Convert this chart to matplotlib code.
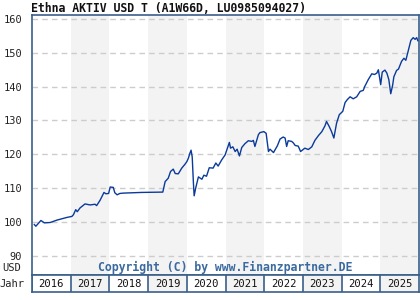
import matplotlib
matplotlib.use("Agg")
import matplotlib.pyplot as plt

# fund price (USD), decimal year vs value
years = [2016.06, 2016.10, 2016.23, 2016.32, 2016.47, 2016.64, 2016.90, 2017.03, 2017.07, 2017.13,
         2017.17, 2017.24, 2017.37, 2017.50, 2017.63, 2017.67, 2017.76, 2017.83, 2017.86, 2017.91,
         2017.98, 2018.02, 2018.10, 2018.14, 2018.20, 2018.27, 2018.36, 2018.83, 2019.38, 2019.44,
         2019.52, 2019.58, 2019.65, 2019.70, 2019.78, 2019.87, 2019.95, 2020.00, 2020.04, 2020.08,
         2020.11, 2020.14, 2020.17, 2020.19, 2020.23, 2020.30, 2020.39, 2020.44, 2020.51, 2020.58,
         2020.68, 2020.75, 2020.81, 2020.90, 2020.99, 2021.10, 2021.13, 2021.19, 2021.25, 2021.30,
         2021.36, 2021.42, 2021.50, 2021.59, 2021.68, 2021.72, 2021.76, 2021.85, 2021.89, 2021.99,
         2022.05, 2022.11, 2022.15, 2022.24, 2022.34, 2022.41, 2022.49, 2022.54, 2022.58, 2022.62,
         2022.71, 2022.75, 2022.80, 2022.88, 2022.94, 2023.05, 2023.14, 2023.23, 2023.31, 2023.40,
         2023.49, 2023.57, 2023.61, 2023.68, 2023.74, 2023.80, 2023.87, 2023.94, 2024.03, 2024.09,
         2024.15, 2024.22, 2024.30, 2024.39, 2024.48, 2024.56, 2024.60, 2024.69, 2024.78, 2024.85,
         2024.91, 2024.95, 2024.97, 2025.01, 2025.05, 2025.12, 2025.17, 2025.22, 2025.27, 2025.32,
         2025.35, 2025.42, 2025.47, 2025.55, 2025.61, 2025.66, 2025.72, 2025.79, 2025.85, 2025.90,
         2025.94, 2025.97]
prices = [99.2, 98.7, 100.4, 99.7, 99.8, 100.5, 101.3, 101.6, 102.1, 103.6,
          103.0, 104.1, 105.3, 105.0, 105.2, 104.8, 106.4, 108.0, 108.7, 108.3,
          108.4, 110.3, 110.2, 108.6, 108.0, 108.4, 108.5, 108.7, 108.8, 111.9,
          112.9, 114.9, 115.6, 114.3, 114.2, 115.9, 117.0, 117.8, 118.8, 120.3,
          121.2, 119.2, 111.7, 107.7, 110.0, 113.3, 112.6, 113.8, 113.5, 116.0,
          115.9, 117.4, 116.5, 118.3, 119.8, 123.5, 121.8, 122.2, 120.8, 121.5,
          119.5, 122.0, 123.1, 124.0, 123.8, 124.1, 122.3, 125.8, 126.4, 126.7,
          126.2, 120.8, 121.5, 120.5, 122.5, 124.5, 125.1, 124.8, 122.3, 124.0,
          123.8, 123.4, 122.6, 122.4, 120.8, 121.8, 121.4, 122.2, 124.1, 125.5,
          126.7, 128.4, 129.7, 128.2, 126.7, 124.8, 129.2, 131.7, 132.7, 135.3,
          136.2, 137.0, 136.4, 137.0, 138.6, 138.9, 140.1, 142.1, 143.8, 143.6,
          144.0, 145.0, 143.6, 140.6, 144.3, 144.9, 144.0, 142.1, 137.9, 140.5,
          142.9, 144.8, 145.2, 147.5, 148.4, 147.8, 150.5, 153.7, 154.5, 154.0,
          154.5, 153.6]

year_labels = ["2016", "2017", "2018", "2019", "2020", "2021", "2022", "2023", "2024", "2025"]
y_ticks = [90, 100, 110, 120, 130, 140, 150, 160]

border = "#3a5f8a"
line_col = "#0a3a9a"
stripe = "#f3f3f3"
font = "DejaVu Sans Mono"

fig = plt.figure(figsize=(4.2, 3.0), dpi=100)
W, H = 420, 300

ax = fig.add_axes([32 / W, 1 - 275 / H, 387 / W, 260 / H])
ax.set_xlim(2016, 2026)
ax.set_ylim(84.27, 161.2)
for i, lab in enumerate(year_labels):
    if i % 2 == 1:
        ax.axvspan(int(lab), int(lab) + 1, color=stripe, zorder=0, lw=0)
for v in y_ticks:
    ax.axhline(v, color="#cccccc", lw=1, ls=(0, (4, 3)), zorder=1)
ax.plot(years, prices, color=line_col, lw=1.0, zorder=3)
ax.set_xticks([])
ax.set_yticks(y_ticks)
ax.set_yticklabels([str(v) for v in y_ticks], fontfamily=font, fontsize=7.5, color="#222222")
ax.tick_params(axis="y", length=0, pad=7)
for s in ax.spines.values():
    s.set_color(border)
    s.set_linewidth(1.2)

fig.text(31 / W, 1 - 12.5 / H, "Ethna AKTIV USD T (A1W66D, LU0985094027)",
         ha="left", va="baseline", fontfamily=font, fontsize=8.3, fontweight="bold", color="#111111")
fig.text(12 / W, 1 - 268 / H, "USD", ha="center", va="center", fontfamily=font,
         fontsize=7.5, color="#222222")
ax.text(0.5, 0.028, "Copyright (C) by www.Finanzpartner.DE", transform=ax.transAxes,
        ha="center", va="center", fontfamily=font, fontsize=8.3, fontweight="bold",
        color="#3a6a9f", zorder=4)

# year bar below the chart
axy = fig.add_axes([32 / W, 1 - 292 / H, 387 / W, 17 / H])
axy.set_xlim(2016, 2026)
axy.set_ylim(0, 1)
for i, lab in enumerate(year_labels):
    if i % 2 == 1:
        axy.axvspan(int(lab), int(lab) + 1, color=stripe, zorder=0, lw=0)
    axy.axvline(int(lab), color=border, lw=1.2)
    axy.text(int(lab) + 0.5, 0.45, lab, ha="center", va="center", fontfamily=font,
             fontsize=7.6, color="#111111")
axy.set_xticks([])
axy.set_yticks([])
for s in axy.spines.values():
    s.set_color(border)
    s.set_linewidth(1.2)
fig.text(12 / W, 1 - 284 / H, "Jahr", ha="center", va="center", fontfamily=font,
         fontsize=7.5, color="#222222")

fig.savefig("out.png", dpi=100)
